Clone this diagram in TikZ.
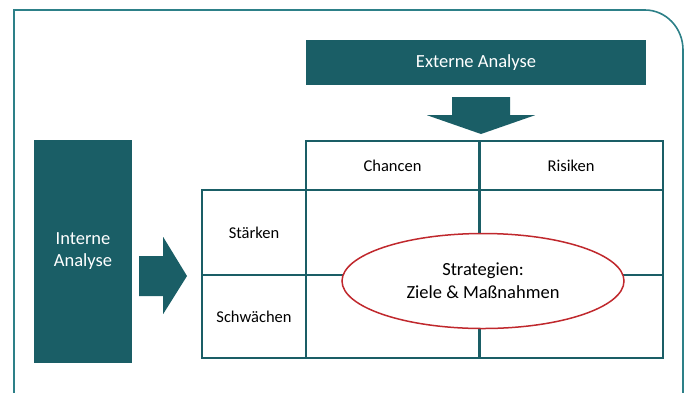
\documentclass[tikz,border=0pt]{standalone}
\usepackage{fontspec}
\setmainfont{Carlito}
\usetikzlibrary{positioning,calc,shapes.geometric}

\definecolor{petrol}{RGB}{26,94,102}
\definecolor{rahmen}{RGB}{45,128,136}
\definecolor{rot}{RGB}{192,40,45}

\begin{document}
\begin{tikzpicture}[
  x=1pt, y=-1pt,
  block/.style={draw=none, fill=petrol, text=white, align=center, inner sep=0pt,
                font=\fontsize{18.5}{22}\selectfont},
  cell/.style={draw=petrol, line width=1.6pt, inner sep=0pt, outer sep=0pt,
               anchor=north west, font=\fontsize{16.5}{20}\selectfont},
  pfeil/.style={fill=petrol},
]
\useasboundingbox (0,0) rectangle (687,392);

% Rahmen
\draw[rahmen, line width=1.6pt] (14,400) -- (14,10) -- (645,10)
  arc[start angle=90, end angle=0, x radius=38, y radius=-40] -- (683,400);

% Analysen
\node[block, minimum width=340, minimum height=45] (ext) at (476,62.5) {Externe Analyse};
\node[block, minimum width=98, minimum height=223] (int) at (83,251.5) {Interne\\Analyse};

% Matrix
\node[cell, minimum width=173, minimum height=49] (chancen) at (306,141) {Chancen};
\node[cell, minimum width=184, minimum height=49, right=0pt of chancen] (risiken) {Risiken};
\node[cell, minimum width=104, minimum height=85] (staerken) at (202,190) {Stärken};
\node[cell, minimum width=104, minimum height=83, below=0pt of staerken] (schwaechen) {Schwächen};
\node[cell, minimum width=173, minimum height=85, right=0pt of staerken] (so) {};
\node[cell, minimum width=184, minimum height=85, right=0pt of so] (st) {};
\node[cell, minimum width=173, minimum height=83, below=0pt of so] (wo) {};
\node[cell, minimum width=184, minimum height=83, below=0pt of st] (wt) {};
\draw[petrol, line width=3pt] (chancen.north east) -- (wo.south east);

% Strategien
\node[ellipse, draw=rot, line width=1.5pt, fill=white, minimum width=282, minimum height=95,
      align=center, font=\fontsize{18.5}{23}\selectfont] (strat) at (483,281)
      {Strategien:\\Ziele \& Maßnahmen};

% Pfeile
\fill[pfeil] ($(ext.south)+(-24,12)$) -- ($(ext.south)+(34,12)$) -- ($(ext.south)+(34,30)$)
  -- ($(ext.south)+(59,30)$) -- ($(chancen.north east)+(2,-7)$) -- ($(ext.south)+(-49,30)$)
  -- ($(ext.south)+(-24,30)$) -- cycle;
\fill[pfeil] ($(int.east)+(7,4.5)$) -- ($(int.east)+(31,4.5)$) -- ($(int.east)+(31,-14.5)$)
  -- ($(staerken.west)+(-15,43.5)$) -- ($(int.east)+(31,62.5)$) -- ($(int.east)+(31,44.5)$)
  -- ($(int.east)+(7,44.5)$) -- cycle;

\end{tikzpicture}
\end{document}
